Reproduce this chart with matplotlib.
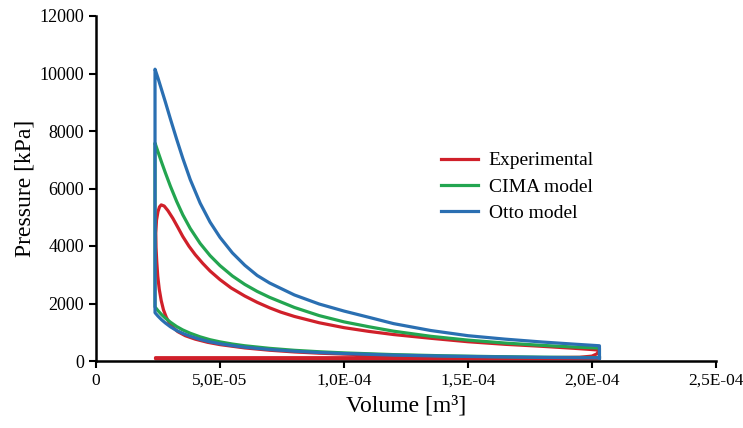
import matplotlib
matplotlib.use("Agg")
import matplotlib.pyplot as plt
import numpy as np

plt.rcParams['font.family'] = ['Liberation Serif', 'DejaVu Serif']

# volumes in 1e-5 m3, pressures in kPa
exp_v = [20.3, 18, 16, 14, 12, 10, 9, 8, 7, 6, 5, 4.5, 4.0, 3.6, 3.3, 3.1, 2.95, 2.83, 2.72, 2.63,
         2.55, 2.49, 2.45, 2.42, 2.41, 2.44, 2.5, 2.56, 2.63, 2.75, 2.9, 3.1, 3.3, 3.5, 3.75, 4.0,
         4.3, 4.6, 5.0, 5.45, 6.0, 6.5, 7.0, 7.45, 8.0, 9.0, 10, 11, 12, 13.5, 15, 16.5, 18, 19.3,
         20.3, 20.2, 20.0, 19.5, 18, 2.4, 2.4, 20.3, 20.3]
exp_p = [95, 108, 126, 150, 185, 240, 272, 315, 375, 455, 570, 650, 760, 880, 1020, 1170, 1330, 1530, 1780, 2100,
         2500, 2950, 3450, 3950, 4450, 4900, 5200, 5360, 5430, 5390, 5230, 4960, 4650, 4330, 3990, 3700,
         3400, 3130, 2830, 2540, 2260, 2040, 1850, 1700, 1550, 1330, 1160, 1030, 920, 790, 670, 580, 510, 440,
         380, 250, 170, 130, 115, 115, 80, 80, 95]

cima_v = [20.3, 18, 16, 14, 12, 10, 9, 8, 7, 6, 5.5, 5, 4.6, 4.2, 3.8, 3.5, 3.25, 3.0, 2.8, 2.65, 2.5, 2.38,
          2.38, 2.5, 2.65, 2.8, 3.0, 3.25, 3.5, 3.8, 4.2, 4.6, 5.0, 5.5, 6, 6.5, 7, 8, 9, 10, 11, 12,
          13.5, 15, 16.5, 18, 19.3, 20.3, 20.3]
cima_p = [118, 133, 154, 182, 222, 282, 322, 372, 440, 530, 590, 665, 740, 840, 965, 1080, 1200, 1350, 1490, 1610, 1750, 1880,
          7580, 7275, 6900, 6540, 6080, 5555, 5085, 4610, 4088, 3665, 3318, 2957, 2664, 2420, 2214, 1862, 1579, 1361, 1192, 1037,
          859, 726, 624, 543, 485, 450, 118]

otto_v = [20.3, 18, 16, 14, 12, 10, 9, 8, 7, 6, 5.5, 5, 4.6, 4.2, 3.8, 3.5, 3.25, 3.0, 2.8, 2.65, 2.5, 2.38,
          2.38, 2.5, 2.65, 2.8, 3.0, 3.25, 3.5, 3.8, 4.2, 4.6, 5.0, 5.5, 6, 6.5, 7, 8, 9, 10, 11, 12,
          13.5, 15, 16.5, 18, 19.3, 20.3, 20.3]
otto_p = [110, 125, 145, 170, 205, 260, 295, 340, 400, 480, 535, 600, 665, 750, 860, 960, 1060, 1190, 1320, 1430, 1560, 1680,
          10150, 9840, 9420, 9000, 8420, 7720, 7050, 6310, 5490, 4830, 4300, 3760, 3330, 2975, 2713, 2297, 1982, 1737, 1520, 1300,
          1060, 880, 760, 660, 585, 530, 110]

x_ticks = [0, 5e-5, 1e-4, 1.5e-4, 2e-4, 2.5e-4]
x_labels = ['0', '5,0E-05', '1,0E-04', '1,5E-04', '2,0E-04', '2,5E-04']
y_ticks = [0, 2000, 4000, 6000, 8000, 10000, 12000]

fig = plt.figure(figsize=(7.43, 4.28), dpi=100)
ax = fig.add_axes([96/743, 1-361/428, 620/743, 345/428])

ax.plot(np.array(exp_v)*1e-5, exp_p, color='#d0202a', lw=2.3, label='Experimental')
ax.plot(np.array(cima_v)*1e-5, cima_p, color='#23a550', lw=2.3, label='CIMA model')
ax.plot(np.array(otto_v)*1e-5, otto_p, color='#2a6fb2', lw=2.3, label='Otto model')

ax.set_xlim(0, 2.5e-4)
ax.set_ylim(0, 12000)
ax.set_xticks(x_ticks)
ax.set_xticklabels(x_labels)
ax.set_yticks(y_ticks)
ax.tick_params(width=1.5, length=5, direction='out')
ax.tick_params(axis='y', labelsize=13)
ax.tick_params(axis='x', labelsize=12.5)
for s in ['top', 'right']:
    ax.spines[s].set_visible(False)
for s in ['left', 'bottom']:
    ax.spines[s].set_linewidth(1.8)

ax.set_xlabel('Volume [m³]', fontsize=17, labelpad=5)
ax.set_ylabel('Pressure [kPa]', fontsize=17, labelpad=3)

ax.legend(frameon=False, fontsize=14, loc='center left',
          bbox_to_anchor=(441/743, 1-187/428), bbox_transform=fig.transFigure,
          borderaxespad=0, borderpad=0, handlelength=1.9, handletextpad=0.55,
          labelspacing=0.45)

fig.savefig('out.png', dpi=100)
